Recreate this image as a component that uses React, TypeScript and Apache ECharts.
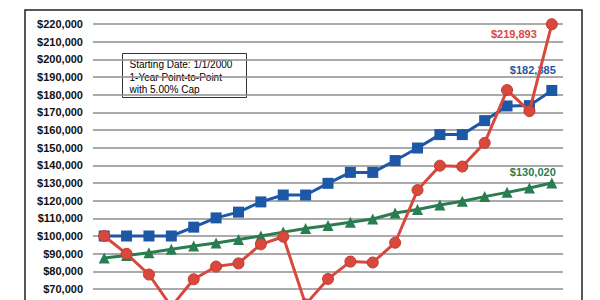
import React, { useEffect, useRef } from "react";
import * as echarts from "echarts";

const years = [
  "2000", "2001", "2002", "2003", "2004", "2005", "2006", "2007", "2008", "2009", "2010",
  "2011", "2012", "2013", "2014", "2015", "2016", "2017", "2018", "2019", "2020",
];

const indexValues = [
  100000, 89900, 78200, 60000, 75500, 82700, 84500, 95300, 99600, 61300, 75700,
  85500, 85000, 96200, 126000, 139800, 139300, 152700, 182600, 170700, 219893,
];

const cappedValues = [
  100000, 100000, 100000, 100000, 105000, 110250, 113500, 119300, 123200, 123200, 129800,
  136000, 136000, 142700, 149800, 157400, 157400, 165300, 173600, 173800, 182385,
];

const fixedValues = [
  87500, 89000, 90500, 92500, 94300, 96000, 98000, 100000, 102200, 104200, 106000,
  107800, 109600, 113000, 115000, 117500, 119700, 122300, 124700, 127200, 130020,
];

const noteLines = ["Starting Date: 1/1/2000", "1-Year Point-to-Point", "with 5.00% Cap"];

const RED = "#d9483c";
const BLUE = "#1c58a6";
const GREEN = "#2a7d50";

const fmt = (v: number) => "$" + v.toLocaleString("en-US");

function lastLabel(arr: number[], color: string, label: any) {
  return arr.map((v, i) =>
    i === arr.length - 1
      ? {
          value: v,
          label: {
            show: true,
            formatter: fmt(v),
            color,
            fontWeight: "bold",
            fontSize: 11,
            fontFamily: "Liberation Sans, Arial, sans-serif",
            ...label,
          },
        }
      : v
  );
}

export default function App() {
  const ref = useRef<HTMLDivElement>(null);
  useEffect(() => {
    if (!ref.current) return;
    const chart = echarts.init(ref.current, null, { renderer: "svg" });
    chart.setOption({
      animation: false,
      backgroundColor: "#ffffff",
      grid: { left: 93, right: 37, top: 24, height: 318 },
      xAxis: {
        type: "category",
        data: years,
        boundaryGap: true,
        axisLine: { show: false },
        axisTick: { show: false },
        axisLabel: { show: false },
      },
      yAxis: {
        type: "value",
        min: 40000,
        max: 220000,
        interval: 10000,
        axisLine: { show: false },
        axisTick: { show: false },
        axisLabel: {
          formatter: (v: number) => (v >= 70000 ? fmt(v) : ""),
          color: "#111",
          fontWeight: "bold",
          fontSize: 11,
          fontFamily: "Liberation Sans, Arial, sans-serif",
          margin: 10,
        },
        splitLine: { lineStyle: { color: "#8e8e8e", width: 1.5 } },
      },
      graphic: [
        {
          type: "rect",
          shape: { x: 25, y: 10, width: 557, height: 400 },
          style: { fill: "none", stroke: "#222", lineWidth: 1.5 },
          silent: true,
          z: 100,
        },
        {
          type: "group",
          left: 122,
          top: 53,
          z: 100,
          children: [
            {
              type: "rect",
              shape: { x: 0, y: 0, width: 124, height: 44 },
              style: { fill: "#fff", stroke: "#333", lineWidth: 1 },
            },
            {
              type: "text",
              x: 7,
              y: 5,
              style: {
                text: noteLines.join("\n"),
                fill: "#000",
                fontSize: 10,
                lineHeight: 12.5,
                fontFamily: "Liberation Sans, Arial, sans-serif",
              },
            },
          ],
        },
      ],
      series: [
        {
          type: "line",
          data: lastLabel(fixedValues, GREEN, { position: "top", offset: [-19, 5] }),
          symbol: "triangle",
          symbolSize: 11,
          lineStyle: { color: GREEN, width: 3 },
          itemStyle: { color: GREEN },
          z: 2,
        },
        {
          type: "line",
          data: lastLabel(cappedValues, BLUE, { position: "top", offset: [-19, -4] }),
          symbol: "rect",
          symbolSize: 11,
          lineStyle: { color: BLUE, width: 3 },
          itemStyle: { color: BLUE },
          z: 3,
        },
        {
          type: "line",
          data: lastLabel(indexValues, RED, { position: "left", distance: 9, offset: [0, 10] }),
          symbol: "circle",
          symbolSize: 11,
          lineStyle: { color: RED, width: 3 },
          itemStyle: { color: RED, borderColor: "#c23a30", borderWidth: 1 },
          z: 4,
        },
      ],
    });
    return () => chart.dispose();
  }, []);
  return (
    <div
      ref={ref}
      style={{ position: "absolute", left: 0, top: 0, width: 600, height: 360 }}
    />
  );
}
